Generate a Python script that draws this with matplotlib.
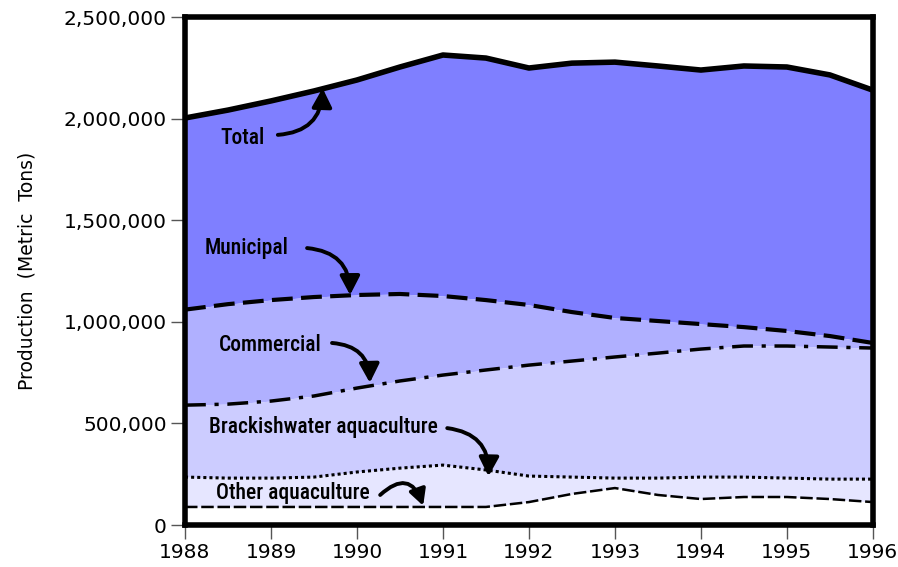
import matplotlib.pyplot as plt
from matplotlib.ticker import FuncFormatter

# production by source (metric tons)
years = [1988, 1988.5, 1989, 1989.5, 1990, 1990.5, 1991, 1991.5, 1992,
         1992.5, 1993, 1993.5, 1994, 1994.5, 1995, 1995.5, 1996]
total = [2003000, 2042000, 2087000, 2136000, 2190000, 2254000, 2313000, 2298000, 2249000,
         2273000, 2278000, 2259000, 2239000, 2259000, 2254000, 2215000, 2140000]
municipal = [1060000, 1087000, 1107000, 1122000, 1132000, 1137000, 1127000, 1107000, 1083000,
             1048000, 1019000, 1004000, 989000, 974000, 955000, 930000, 896000]
commercial = [590000, 595000, 610000, 635000, 674000, 709000, 738000, 763000, 787000,
              807000, 827000, 846000, 866000, 881000, 881000, 876000, 871000]
brackish = [236000, 231000, 231000, 236000, 261000, 280000, 295000, 271000, 241000,
            236000, 231000, 231000, 236000, 236000, 231000, 226000, 226000]
other = [89000, 89000, 89000, 89000, 89000, 89000, 89000, 89000, 113000,
         153000, 182000, 148000, 128000, 138000, 138000, 128000, 113000]

# label text, text position, arrow start, arrow tip, curvature, head size
labels = [
    ("Total", (1988.67, 1904000), (1989.08, 1920000), (1989.6, 2150000), 0.45, 12),
    ("Municipal", (1988.72, 1363000), (1989.42, 1363000), (1989.92, 1132000), -0.45, 12),
    ("Commercial", (1988.99, 886000), (1989.71, 896000), (1990.15, 700000), -0.45, 12),
    ("Brackishwater aquaculture", (1989.61, 482000), (1991.05, 477000), (1991.53, 240000), -0.45, 12),
    ("Other aquaculture", (1989.26, 157000), (1990.27, 148000), (1990.77, 95000), -0.75, 10),
]
label_font = ["Roboto Condensed", "Liberation Sans Narrow", "Roboto", "DejaVu Sans"]

fig = plt.figure(figsize=(8.98, 5.67), dpi=100)
ax = fig.add_axes([0.206, 0.074, 0.766, 0.896])

ax.fill_between(years, municipal, total, color="#7f7fff", lw=0)
ax.fill_between(years, commercial, municipal, color="#b0b0ff", lw=0)
ax.fill_between(years, brackish, commercial, color="#ccccff", lw=0)
ax.fill_between(years, other, brackish, color="#e6e6ff", lw=0)

ax.plot(years, total, color="black", lw=4, solid_capstyle="butt")
ax.plot(years, municipal, color="black", lw=3, dashes=(5, 2))
ax.plot(years, commercial, color="black", lw=2.5, dashes=(6, 2.5, 1.2, 2.5))
ax.plot(years, brackish, color="black", lw=2.2, dashes=(1, 1))
ax.plot(years, other, color="black", lw=1.8, dashes=(5, 1.5))

for text, tpos, start, tip, rad, head in labels:
    ax.text(tpos[0], tpos[1], text, ha="center", va="center", fontsize=15.5,
            family=label_font, weight="medium", color="black")
    ax.annotate("", xy=tip, xytext=start,
                arrowprops=dict(arrowstyle="-|>,head_width=0.5,head_length=0.95",
                                connectionstyle=f"arc3,rad={rad}", mutation_scale=head,
                                color="black", lw=2.8, shrinkA=0, shrinkB=0))

ax.set_xlim(1988, 1996)
ax.set_ylim(0, 2500000)
ax.set_xticks(range(1988, 1997))
ax.set_yticks(range(0, 2500001, 500000))
ax.yaxis.set_major_formatter(FuncFormatter(lambda v, p: f"{int(v):,}"))
ax.tick_params(direction="out", length=10, width=1, color="#555555",
               labelsize=14.5, pad=3)
for s in ax.spines.values():
    s.set_linewidth(4)
    s.set_color("black")

ax.set_ylabel("Production  (Metric  Tons)", fontsize=13.5, labelpad=20)

fig.savefig("out.png", dpi=100)
